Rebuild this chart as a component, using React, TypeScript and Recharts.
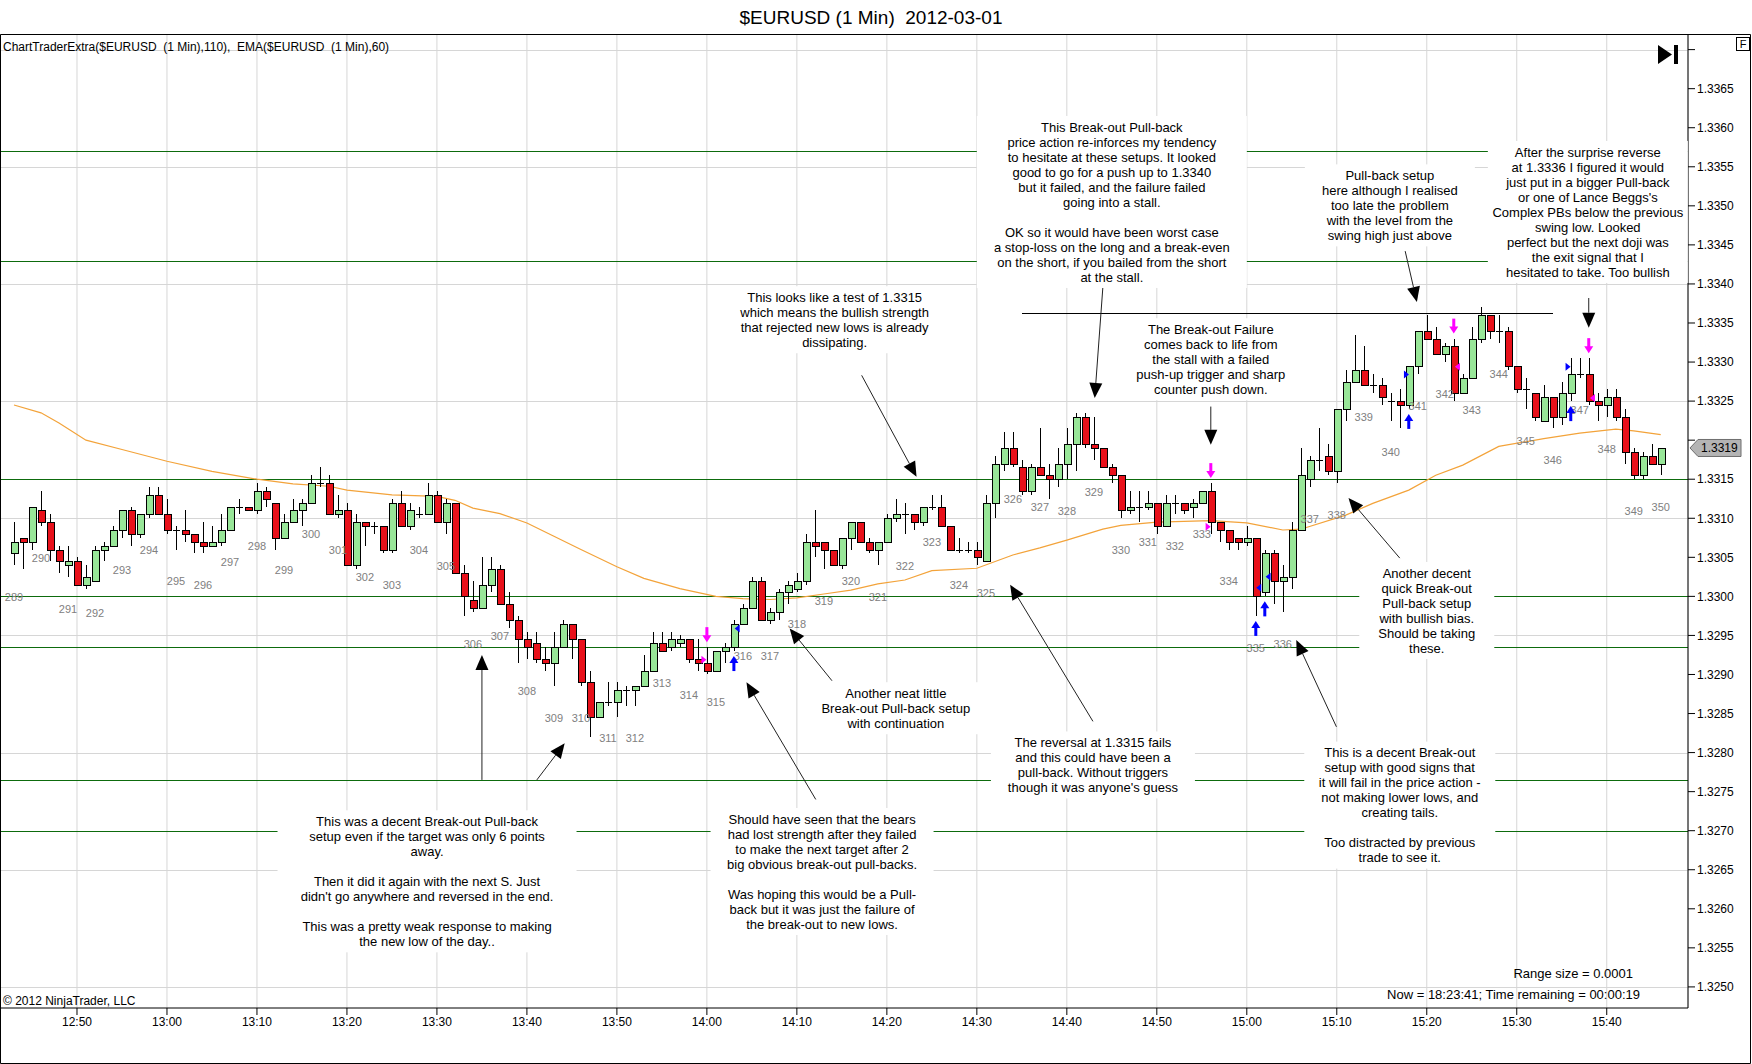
import React from 'react';
import {
  Bar,
  CartesianGrid,
  ComposedChart,
  Line,
  ReferenceDot,
  ReferenceLine,
  Scatter,
  XAxis,
  YAxis,
} from 'recharts';

const W = 1752;
const H = 1064;
const FONT = '"Liberation Sans", Arial, Helvetica, sans-serif';
const UP = '#98e698';
const DOWN = '#e8101a';

// one bar per minute, bar 0 = 12:43
const opens = [
  1.33055, 1.33075, 1.3307, 1.3311, 1.33095, 1.3306, 1.3304, 1.33045, 1.33015, 1.3302,
  1.3306, 1.33065, 1.33085, 1.3311, 1.3308, 1.33105, 1.3313, 1.33105, 1.33085, 1.33085,
  1.3308, 1.3307, 1.33065, 1.3307, 1.33085, 1.33115, 1.33115, 1.3311, 1.33135, 1.3312,
  1.33075, 1.33095, 1.3311, 1.3312, 1.33145, 1.33145, 1.33105, 1.3311, 1.3304, 1.33095,
  1.3309, 1.3309, 1.3306, 1.3312, 1.3309, 1.33105, 1.33105, 1.3313, 1.33095, 1.3312,
  1.3303, 1.32995, 1.32985, 1.33015, 1.33035, 1.3299, 1.3297, 1.32945, 1.3294, 1.3292,
  1.32915, 1.32935, 1.32965, 1.32945, 1.3289, 1.32845, 1.32865, 1.32865, 1.3288, 1.3288,
  1.32885, 1.32905, 1.3294, 1.32935, 1.3294, 1.32945, 1.3292, 1.32915, 1.32905, 1.3293,
  1.32935, 1.32965, 1.32985, 1.3302, 1.3297, 1.3298, 1.33005, 1.3301, 1.3302, 1.3307,
  1.3307, 1.3306, 1.3304, 1.33075, 1.33095, 1.3307, 1.3306, 1.3307, 1.331, 1.33105,
  1.33105, 1.33095, 1.33115, 1.33115, 1.3309, 1.3306, 1.3306, 1.3306, 1.33045, 1.3312,
  1.3317, 1.3319, 1.33165, 1.33135, 1.33165, 1.33155, 1.3315, 1.3317, 1.33195, 1.3323,
  1.33195, 1.3319, 1.33165, 1.33155, 1.3311, 1.33115, 1.33115, 1.3312, 1.3309, 1.3312,
  1.3312, 1.33115, 1.3312, 1.33135, 1.33095, 1.33085, 1.33075, 1.3307, 1.33075, 1.33005,
  1.33055, 1.3302, 1.33025, 1.33085, 1.3315, 1.33175, 1.3318, 1.3316, 1.3324, 1.33275,
  1.3329, 1.3327, 1.3327, 1.3325, 1.3325, 1.33245, 1.33295, 1.3334, 1.3333, 1.3331,
  1.3332, 1.3326, 1.3328, 1.3333, 1.3336, 1.3334, 1.3334, 1.33295, 1.33265, 1.3326,
  1.33225, 1.33255, 1.3323, 1.3326, 1.33285, 1.33285, 1.3325, 1.33245, 1.33255, 1.3323,
  1.33185, 1.33155, 1.3318, 1.3317,
];
const highs = [
  1.33095, 1.33075, 1.33115, 1.33135, 1.33105, 1.33065, 1.33065, 1.3305, 1.3304, 1.33065,
  1.3307, 1.3309, 1.3311, 1.33115, 1.33105, 1.3314, 1.3314, 1.33125, 1.3309, 1.3311,
  1.3308, 1.33095, 1.3309, 1.33105, 1.33115, 1.33125, 1.33115, 1.33145, 1.3314, 1.3312,
  1.33105, 1.33125, 1.33125, 1.33155, 1.33165, 1.33155, 1.3313, 1.3312, 1.33105, 1.33095,
  1.33095, 1.3309, 1.33125, 1.33135, 1.3312, 1.33115, 1.33145, 1.33135, 1.33125, 1.3312,
  1.3304, 1.3302, 1.3305, 1.3305, 1.3304, 1.33005, 1.32975, 1.32955, 1.32955, 1.32935,
  1.32955, 1.3297, 1.32965, 1.32945, 1.32905, 1.32865, 1.3289, 1.3289, 1.32885, 1.32885,
  1.32925, 1.32955, 1.32955, 1.32955, 1.3295, 1.32945, 1.32945, 1.32935, 1.3293, 1.3294,
  1.3297, 1.3299, 1.33025, 1.33025, 1.32985, 1.3301, 1.3302, 1.3303, 1.3308, 1.3311,
  1.3307, 1.3306, 1.33075, 1.33095, 1.33095, 1.33075, 1.3307, 1.33105, 1.33125, 1.3312,
  1.33105, 1.33115, 1.3313, 1.3313, 1.3309, 1.33075, 1.3307, 1.3307, 1.3313, 1.3318,
  1.3321, 1.3321, 1.33175, 1.3317, 1.33215, 1.3317, 1.3319, 1.33215, 1.33235, 1.33235,
  1.3323, 1.3319, 1.3317, 1.33155, 1.33135, 1.33135, 1.33135, 1.3312, 1.3313, 1.3313,
  1.3312, 1.33125, 1.33135, 1.33145, 1.33095, 1.33085, 1.33075, 1.3309, 1.33075, 1.3306,
  1.3306, 1.3304, 1.33095, 1.3319, 1.3318, 1.33215, 1.33195, 1.3324, 1.3329, 1.33335,
  1.3332, 1.33285, 1.3328, 1.3326, 1.33265, 1.33295, 1.3334, 1.3336, 1.33345, 1.33325,
  1.3333, 1.33285, 1.33345, 1.3337, 1.3336, 1.3336, 1.33345, 1.33295, 1.3328, 1.3326,
  1.3327, 1.33255, 1.33275, 1.33305, 1.33305, 1.33305, 1.3326, 1.33265, 1.33265, 1.3324,
  1.3319, 1.33185, 1.33195, 1.3319,
];
const lows = [
  1.3304, 1.33035, 1.3306, 1.3309, 1.33045, 1.3303, 1.33025, 1.33015, 1.3301, 1.3302,
  1.33045, 1.33065, 1.33075, 1.33065, 1.33075, 1.331, 1.33105, 1.3308, 1.3306, 1.3307,
  1.33055, 1.33055, 1.33065, 1.33065, 1.33085, 1.33105, 1.3311, 1.33105, 1.33115, 1.3306,
  1.33075, 1.33095, 1.3309, 1.3312, 1.3314, 1.33105, 1.331, 1.3304, 1.33035, 1.33065,
  1.3308, 1.33055, 1.33055, 1.3309, 1.33085, 1.331, 1.33105, 1.33095, 1.3308, 1.3303,
  1.32975, 1.3298, 1.32985, 1.33005, 1.3299, 1.3296, 1.32915, 1.3292, 1.32915, 1.32905,
  1.32885, 1.32935, 1.3292, 1.32885, 1.3282, 1.32845, 1.3286, 1.32845, 1.3286, 1.3286,
  1.32885, 1.32905, 1.3293, 1.3293, 1.32935, 1.32915, 1.32905, 1.329, 1.32905, 1.32915,
  1.3293, 1.32965, 1.32985, 1.3297, 1.32965, 1.3297, 1.3299, 1.33005, 1.33015, 1.3305,
  1.33035, 1.3304, 1.33035, 1.3306, 1.3307, 1.33055, 1.3304, 1.3307, 1.33095, 1.3308,
  1.33085, 1.3309, 1.3311, 1.3309, 1.3306, 1.33055, 1.33055, 1.3304, 1.33045, 1.331,
  1.3316, 1.33165, 1.3313, 1.3313, 1.33155, 1.33125, 1.3314, 1.3315, 1.3316, 1.3319,
  1.33175, 1.33165, 1.33145, 1.331, 1.33105, 1.33095, 1.3311, 1.3308, 1.3309, 1.33105,
  1.33105, 1.331, 1.3312, 1.3308, 1.3307, 1.3306, 1.3306, 1.33065, 1.32975, 1.33,
  1.3299, 1.3298, 1.3301, 1.33085, 1.3314, 1.3316, 1.33155, 1.33145, 1.33225, 1.33275,
  1.3327, 1.3326, 1.33245, 1.33225, 1.33215, 1.3324, 1.33285, 1.3333, 1.3331, 1.333,
  1.3325, 1.3326, 1.3328, 1.33325, 1.3333, 1.33325, 1.3329, 1.3326, 1.3324, 1.33225,
  1.33225, 1.33215, 1.3322, 1.3325, 1.3328, 1.33245, 1.33225, 1.3323, 1.33225, 1.3317,
  1.3315, 1.3315, 1.3317, 1.33155,
];
const closes = [
  1.3307, 1.3307, 1.33115, 1.33095, 1.3306, 1.33045, 1.33045, 1.33015, 1.33025, 1.3306,
  1.33065, 1.33085, 1.3311, 1.3308, 1.33105, 1.3313, 1.33105, 1.33085, 1.33085, 1.3308,
  1.3307, 1.33065, 1.3307, 1.33085, 1.33115, 1.33115, 1.3311, 1.33135, 1.33125, 1.33075,
  1.33095, 1.3311, 1.3312, 1.33145, 1.33145, 1.33105, 1.3311, 1.3304, 1.33095, 1.3309,
  1.3309, 1.3306, 1.3312, 1.3309, 1.3311, 1.33105, 1.3313, 1.33095, 1.3312, 1.3303,
  1.33, 1.32985, 1.33015, 1.33035, 1.3299, 1.3297, 1.32945, 1.32935, 1.3292, 1.32915,
  1.32935, 1.32965, 1.32945, 1.3289, 1.32845, 1.32865, 1.32865, 1.3288, 1.3288, 1.32885,
  1.32905, 1.3294, 1.3293, 1.32945, 1.32945, 1.3292, 1.32915, 1.32905, 1.3293, 1.32935,
  1.32965, 1.32985, 1.3302, 1.3297, 1.3298, 1.33005, 1.33015, 1.3302, 1.3307, 1.33065,
  1.3306, 1.3304, 1.33075, 1.33095, 1.3307, 1.3306, 1.3307, 1.331, 1.33105, 1.33105,
  1.33095, 1.33115, 1.33115, 1.3309, 1.3306, 1.3306, 1.3306, 1.3305, 1.3312, 1.3317,
  1.3319, 1.3317, 1.33135, 1.33165, 1.33155, 1.3315, 1.3317, 1.33195, 1.3323, 1.33195,
  1.3319, 1.33165, 1.33155, 1.3311, 1.33115, 1.33115, 1.3312, 1.3309, 1.3312, 1.3312,
  1.3311, 1.3312, 1.33135, 1.33095, 1.33085, 1.3307, 1.3307, 1.33075, 1.33, 1.33055,
  1.3302, 1.33025, 1.33085, 1.33155, 1.33175, 1.33175, 1.3316, 1.3324, 1.33275, 1.3329,
  1.3327, 1.3327, 1.33255, 1.3325, 1.33245, 1.33295, 1.3334, 1.3333, 1.3331, 1.3332,
  1.3326, 1.3328, 1.3333, 1.3336, 1.3334, 1.3334, 1.33295, 1.33265, 1.33265, 1.3323,
  1.33255, 1.3323, 1.3326, 1.33285, 1.33285, 1.3325, 1.33245, 1.33255, 1.3323, 1.33185,
  1.33155, 1.3318, 1.3317, 1.3319,
];

// EMA(60) at these bars
const emaBars = [
  0, 3, 5, 8, 12, 17, 22, 27, 31, 35, 37, 42, 47, 49, 51, 54, 57, 60, 63, 67, 70, 74, 78, 81, 84, 87,
  90, 93, 96, 99, 102, 107, 111, 114, 117, 121, 123, 127, 133, 137, 141, 143, 148, 151, 155, 158,
  161, 165, 170, 174, 178, 180, 183,
];
const emaValues = [
  1.33245, 1.33235, 1.33222, 1.332, 1.33188, 1.33173, 1.3316, 1.3315, 1.33144, 1.33141, 1.33136,
  1.3313, 1.33128, 1.33123, 1.33113, 1.33106, 1.33094, 1.33077, 1.3306, 1.33038, 1.33023, 1.3301,
  1.33, 1.32997, 1.32996, 1.32998, 1.33003, 1.33008, 1.33016, 1.33021, 1.33033, 1.33036, 1.33053,
  1.33062, 1.33072, 1.33086, 1.33091, 1.33095, 1.33097, 1.33094, 1.33085, 1.33086, 1.33104,
  1.33119, 1.33136, 1.33155, 1.33168, 1.33192, 1.33202, 1.33209, 1.33214, 1.33212, 1.33207,
];

const timeTickBars = [7, 17, 27, 37, 47, 57, 67, 77, 87, 97, 107, 117, 127, 137, 147, 157, 167, 177];
const timeTickLabels = [
  '12:50', '13:00', '13:10', '13:20', '13:30', '13:40', '13:50', '14:00', '14:10',
  '14:20', '14:30', '14:40', '14:50', '15:00', '15:10', '15:20', '15:30', '15:40',
];
const priceTicks = [
  1.325, 1.3255, 1.326, 1.3265, 1.327, 1.3275, 1.328, 1.3285, 1.329, 1.3295, 1.33, 1.3305, 1.331,
  1.3315, 1.332, 1.3325, 1.333, 1.3335, 1.334, 1.3345, 1.335, 1.3355, 1.336, 1.3365, 1.337,
];
const gridLevels = [1.325, 1.3265, 1.328, 1.3295, 1.331, 1.3325, 1.334, 1.3355, 1.337];
const levelLines = [1.3357, 1.3343, 1.3315, 1.33, 1.32935, 1.32765, 1.327];
const swingHigh = { from: 112, to: 171, price: 1.33363 };

const firstBarLabel = 289;
const sellArrowBars = [77, 133, 160, 175];
const buyArrowBars = [80, 138, 139, 155, 173];
const fillMarks = [
  { bar: 76.67, price: 1.32919, color: '#ff00ff', dir: 1 },
  { bar: 80.37, price: 1.32959, color: '#0000ff', dir: -1 },
  { bar: 132.7, price: 1.33089, color: '#ff00ff', dir: 1 },
  { bar: 138.33, price: 1.33011, color: '#0000ff', dir: -1 },
  { bar: 139.37, price: 1.33025, color: '#0000ff', dir: -1 },
  { bar: 154.74, price: 1.33284, color: '#0000ff', dir: 1 },
  { bar: 160.41, price: 1.33294, color: '#ff00ff', dir: -1 },
  { bar: 172.7, price: 1.33294, color: '#0000ff', dir: 1 },
  { bar: 175.41, price: 1.33254, color: '#ff00ff', dir: -1 },
];

const notes = [
  {
    bar: 122.0, price: 1.33601, width: 270,
    lines: [
      'This Break-out Pull-back', 'price action re-inforces my tendency',
      'to hesitate at these setups. It looked', 'good to go for a push up to 1.3340',
      'but it failed, and the failure failed', 'going into a stall.', '',
      'OK so it would have been worst case', 'a stop-loss on the long and a break-even',
      'on the short, if you bailed from the short', 'at the stall.',
    ],
  },
  {
    bar: 152.9, price: 1.33539, width: 170,
    lines: ['Pull-back setup', 'here although I realised', 'too late the probllem', 'with the level from the', 'swing high just above'],
  },
  {
    bar: 174.9, price: 1.33569, width: 200,
    lines: [
      'After the surprise reverse', 'at 1.3336 I figured it would', 'just put in a bigger Pull-back',
      "or one of Lance Beggs's", 'Complex PBs below the previous', 'swing low. Looked',
      'perfect but the next doji was', 'the exit signal that I', 'hesitated to take. Too bullish',
    ],
  },
  {
    bar: 91.2, price: 1.33383, width: 205,
    lines: ['This looks like a test of 1.3315', 'which means the bullish strength', 'that rejected new lows is already', 'dissipating.'],
  },
  {
    bar: 133.0, price: 1.33342, width: 175,
    lines: ['The Break-out Failure', 'comes back to life from', 'the stall with a failed', 'push-up trigger and sharp', 'counter push down.'],
  },
  {
    bar: 157.0, price: 1.3303, width: 135,
    lines: ['Another decent', 'quick Break-out', 'Pull-back setup', 'with bullish bias.', 'Should be taking', 'these.'],
  },
  {
    bar: 154.0, price: 1.328, width: 191,
    lines: [
      'This is a decent Break-out', 'setup with good signs that', 'it will fail in the price action -',
      'not making lower lows, and', 'creating tails.', '', 'Too distracted by previous', 'trade to see it.',
    ],
  },
  {
    bar: 119.9, price: 1.32813, width: 204,
    lines: ['The reversal at 1.3315 fails', 'and this could have been a', 'pull-back. Without triggers', "though it was anyone's guess"],
  },
  {
    bar: 98.0, price: 1.32876, width: 170,
    lines: ['Another neat little', 'Break-out Pull-back setup', 'with continuation'],
  },
  {
    bar: 89.8, price: 1.32715, width: 223,
    lines: [
      'Should have seen that the bears', 'had lost strength after they failed',
      'to make the next target after 2', 'big obvious break-out pull-backs.', '',
      'Was hoping this would be a Pull-', 'back but it was just the failure of', 'the break-out to new lows.',
    ],
  },
  {
    bar: 45.9, price: 1.32712, width: 299,
    lines: [
      'This was a decent Break-out Pull-back', 'setup even if the target was only 6 points', 'away.', '',
      'Then it did it again with the next S. Just', "didn't go anywhere and reversed in the end.", '',
      'This was a pretty weak response to making', 'the new low of the day..',
    ],
  },
];

const noteArrows = [
  { from: [121.0, 1.33395], to: [120.1, 1.33254] },
  { from: [154.6, 1.33442], to: [155.9, 1.33377] },
  { from: [175.0, 1.33382], to: [175.0, 1.33344] },
  { from: [94.2, 1.33283], to: [100.3, 1.33153] },
  { from: [133.0, 1.33243], to: [133.0, 1.33194] },
  { from: [154.0, 1.33049], to: [148.3, 1.33126] },
  { from: [146.96, 1.32833], to: [142.5, 1.32944] },
  { from: [119.9, 1.3284], to: [110.7, 1.33015] },
  { from: [90.9, 1.32892], to: [86.2, 1.32959] },
  { from: [89.1, 1.3274], to: [81.4, 1.3289] },
  { from: [52.0, 1.32765], to: [52.0, 1.32925] },
  { from: [58.1, 1.32765], to: [61.2, 1.32812] },
];

const X_MIN = -1.556;
const X_MAX = 186.03;
const Y_MIN = 1.32473;
const Y_MAX = 1.3372;

const candles = opens.map((open, i) => ({
  i,
  open,
  high: highs[i],
  low: lows[i],
  close: closes[i],
  range: [lows[i], highs[i]],
  ema: emaValues[emaBars.indexOf(i)] ?? null,
}));

const barLabels = candles
  .filter((d) => d.i % 3 === 0)
  .map((d) => ({ i: d.i, y: d.low, text: String(firstBarLabel + d.i / 3) }));
const sellArrows = sellArrowBars.map((i) => ({ i, y: highs[i] }));
const buyArrows = buyArrowBars.map((i) => ({ i, y: lows[i] }));
const fillPoints = fillMarks.map((m) => ({ i: m.bar, y: m.price, color: m.color, dir: m.dir }));
const lastClose = closes[closes.length - 1];

function Candle(props: any) {
  const { x, y, width, height, payload } = props;
  if (x == null || y == null || !payload) return null;
  const { open, close, high, low } = payload;
  const cx = Math.round(x + width / 2) + 0.5;
  const k = high > low ? height / (high - low) : 0;
  const py = (v: number) => Math.round(y + (high - v) * k) + 0.5;
  const top = py(Math.max(open, close));
  const bot = py(Math.min(open, close));
  return (
    <g shapeRendering="crispEdges">
      <line x1={cx} x2={cx} y1={y} y2={y + height} stroke="#000" strokeWidth={1} />
      {bot - top < 1 ? (
        <line x1={cx - 3.5} x2={cx + 3.5} y1={top} y2={top} stroke="#000" strokeWidth={1} />
      ) : (
        <rect
          x={cx - 3.5}
          y={top}
          width={7}
          height={bot - top}
          fill={close > open ? UP : DOWN}
          stroke="#000"
          strokeWidth={1}
        />
      )}
    </g>
  );
}

function BarNumber(props: any) {
  const { cx, cy, payload } = props;
  return (
    <text x={cx} y={cy + 32} dy="0.35em" textAnchor="middle" fontSize={11} fill="#808080" fontFamily={FONT}>
      {payload.text}
    </text>
  );
}

function SellArrow(props: any) {
  const { cx, cy } = props;
  return (
    <g fill="#ff00ff">
      <rect x={cx - 1.5} y={cy - 20} width={3} height={9} />
      <polygon points={`${cx - 4.5},${cy - 12} ${cx + 4.5},${cy - 12} ${cx},${cy - 5}`} />
    </g>
  );
}

function BuyArrow(props: any) {
  const { cx, cy } = props;
  return (
    <g fill="#0000ff">
      <rect x={cx - 1.5} y={cy + 11} width={3} height={9} />
      <polygon points={`${cx - 4.5},${cy + 12} ${cx + 4.5},${cy + 12} ${cx},${cy + 5}`} />
    </g>
  );
}

function FillMark(props: any) {
  const { cx, cy, payload } = props;
  const d = payload.dir;
  return (
    <polygon
      points={`${cx - 2.5 * d},${cy - 4} ${cx + 2.5 * d},${cy} ${cx - 2.5 * d},${cy + 4}`}
      fill={payload.color}
    />
  );
}

function Arrow(props: any) {
  const { x1, y1, x2, y2 } = props;
  if ([x1, y1, x2, y2].some((v) => v == null || Number.isNaN(v))) return null;
  const dx = x2 - x1;
  const dy = y2 - y1;
  const len = Math.hypot(dx, dy) || 1;
  const ux = dx / len;
  const uy = dy / len;
  const hl = 15;
  const hw = 6.5;
  const bx = x2 - ux * hl;
  const by = y2 - uy * hl;
  return (
    <g>
      <line x1={x1} y1={y1} x2={bx} y2={by} stroke="#222" strokeWidth={1} />
      <polygon
        points={`${x2},${y2} ${bx - uy * hw},${by + ux * hw} ${bx + uy * hw},${by - ux * hw}`}
        fill="#000"
      />
    </g>
  );
}

// horizontal rule snapped to the pixel grid so it stays crisp like the original
function FlatLine(props: any) {
  const { x1, y1, x2, stroke } = props;
  if ([x1, y1, x2].some((v) => v == null || Number.isNaN(v))) return null;
  const y = Math.round(y1) + 0.5;
  return <line x1={x1} x2={x2} y1={y} y2={y} stroke={stroke} strokeWidth={1} shapeRendering="crispEdges" />;
}

function NoteBox({ cx, cy, lines, width }: { cx: number; cy: number; lines: string[]; width: number }) {
  const lh = 15;
  return (
    <g>
      <rect x={cx - width / 2} y={cy - 11} width={width} height={lines.length * lh + 7} fill="#fff" />
      <text textAnchor="middle" fontSize={13} fontFamily={FONT} fill="#000">
        {lines.map((ln, k) => (
          <tspan key={k} x={cx} y={cy + k * lh} dy="0.36em">
            {ln}
          </tspan>
        ))}
      </text>
    </g>
  );
}

function PriceTag(props: any) {
  const { cx, cy } = props;
  return (
    <g>
      <polygon
        points={`${cx + 2},${cy} ${cx + 10},${cy - 8.5} ${cx + 53},${cy - 8.5} ${cx + 53},${cy + 8.5} ${cx + 10},${cy + 8.5}`}
        fill="#b4b4b4"
        stroke="#6e6e6e"
      />
      <text x={cx + 13} y={cy} dy="0.36em" fontSize={12} fontFamily={FONT} fill="#000">
        {lastClose.toFixed(4)}
      </text>
    </g>
  );
}

function priceLabel(v: number) {
  if (Math.abs(v - 1.337) < 1e-7 || Math.abs(v - lastClose) < 0.00015) return '';
  return v.toFixed(4);
}

export default function App() {
  return (
    <div style={{ position: 'absolute', left: 0, top: 0, width: W, height: H, background: '#fff', overflow: 'hidden' }}>
      <ComposedChart
        width={W}
        height={H}
        data={candles}
        margin={{ top: 34, right: 0, bottom: 0, left: 0 }}
        style={{ fontFamily: FONT }}
      >
        <CartesianGrid horizontal={false} stroke="#d6d6d6" />
        <XAxis
          dataKey="i"
          type="number"
          domain={[X_MIN, X_MAX]}
          allowDataOverflow
          ticks={timeTickBars}
          interval={0}
          tickFormatter={(v: number) => timeTickLabels[timeTickBars.indexOf(v)] ?? ''}
          height={56}
          tickSize={7}
          axisLine={{ stroke: '#000' }}
          tickLine={{ stroke: '#000' }}
          tick={{ fontSize: 12, fill: '#000', fontFamily: FONT }}
        />
        <YAxis
          orientation="right"
          type="number"
          domain={[Y_MIN, Y_MAX]}
          allowDataOverflow
          ticks={priceTicks}
          interval={0}
          tickFormatter={priceLabel}
          width={64}
          tickSize={7}
          axisLine={{ stroke: '#000' }}
          tickLine={{ stroke: '#000' }}
          tick={{ fontSize: 12, fill: '#000', fontFamily: FONT }}
        />
        {gridLevels.map((v) => (
          <ReferenceLine key={`g${v}`} y={v} stroke="#d6d6d6" shape={FlatLine} zIndex={-50} />
        ))}
        {levelLines.map((v) => (
          <ReferenceLine key={`l${v}`} y={v} stroke="#0d6b0d" shape={FlatLine} zIndex={-40} />
        ))}
        <ReferenceLine
          segment={[
            { x: swingHigh.from, y: swingHigh.price },
            { x: swingHigh.to, y: swingHigh.price },
          ]}
          stroke="#000"
          shape={FlatLine}
          zIndex={-30}
        />
        <Line
          dataKey="ema"
          stroke="#f3a33a"
          strokeWidth={1.2}
          dot={false}
          activeDot={false}
          connectNulls
          isAnimationActive={false}
          zIndex={250}
        />
        <Bar dataKey="range" barSize={7} shape={Candle} isAnimationActive={false} />
        <Scatter data={barLabels} dataKey="y" shape={BarNumber} isAnimationActive={false} />
        <Scatter data={sellArrows} dataKey="y" shape={SellArrow} isAnimationActive={false} />
        <Scatter data={buyArrows} dataKey="y" shape={BuyArrow} isAnimationActive={false} />
        <Scatter data={fillPoints} dataKey="y" shape={FillMark} isAnimationActive={false} />
        {noteArrows.map((a, k) => (
          <ReferenceLine
            key={`a${k}`}
            segment={[
              { x: a.from[0], y: a.from[1] },
              { x: a.to[0], y: a.to[1] },
            ]}
            shape={Arrow}
            zIndex={1500}
          />
        ))}
        {notes.map((n, k) => (
          <ReferenceDot
            key={`n${k}`}
            x={n.bar}
            y={n.price}
            r={0}
            ifOverflow="visible"
            zIndex={1600}
            shape={(p: any) => <NoteBox cx={p.cx} cy={p.cy} lines={n.lines} width={n.width} />}
          />
        ))}
        <ReferenceDot x={X_MAX} y={lastClose} r={0} ifOverflow="visible" zIndex={1700} shape={PriceTag} />
      </ComposedChart>
      <svg
        width={W}
        height={H}
        style={{ position: 'absolute', left: 0, top: 0, pointerEvents: 'none' }}
        fontFamily={FONT}
      >
        <text x={871} y={23.5} textAnchor="middle" fontSize={19} fill="#000" style={{ whiteSpace: 'pre' }}>
          {'$EURUSD (1 Min)  2012-03-01'}
        </text>
        <path d="M0.5,34.5 H1750.5 V1063.5 H0.5 Z" fill="none" stroke="#000" />
        <text x={3} y={51} fontSize={12} fill="#000" style={{ whiteSpace: 'pre' }}>
          {'ChartTraderExtra($EURUSD  (1 Min),110),  EMA($EURUSD  (1 Min),60)'}
        </text>
        <polygon points="1658,45 1672,54.5 1658,64" fill="#000" />
        <rect x={1674} y={45} width={4} height={19} fill="#000" />
        <rect x={1736.5} y={37.5} width={13} height={13} fill="#fff" stroke="#000" />
        <text x={1743} y={48} textAnchor="middle" fontSize={11} fill="#000">
          F
        </text>
        <text x={1633} y={977.5} textAnchor="end" fontSize={13} fill="#000">
          Range size = 0.0001
        </text>
        <text x={1640} y={998.5} textAnchor="end" fontSize={13} fill="#000">
          Now = 18:23:41; Time remaining = 00:00:19
        </text>
        <text x={3} y={1005} fontSize={12} fill="#000">
          © 2012 NinjaTrader, LLC
        </text>
      </svg>
    </div>
  );
}
